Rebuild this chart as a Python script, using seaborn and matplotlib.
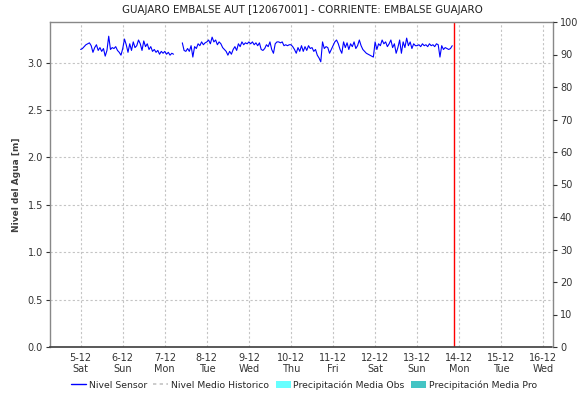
import numpy as np
import pandas as pd
import matplotlib
matplotlib.use("Agg")
import matplotlib.pyplot as plt
import matplotlib.dates as mdates
from matplotlib.lines import Line2D
from matplotlib.patches import Patch
import seaborn as sns

# Nivel horario del sensor [m], un bloque por día (desde las 00:00)
nivel_dia_05 = [3.14, 3.15, 3.17, 3.19, 3.20, 3.21, 3.18, 3.11, 3.16, 3.19, 3.13, 3.16,
                3.12, 3.15, 3.07, 3.13, 3.28, 3.14, 3.16, 3.15, 3.17, 3.13, 3.11, 3.08]
nivel_dia_06 = [3.15, 3.25, 3.19, 3.11, 3.20, 3.13, 3.22, 3.16, 3.18, 3.24, 3.20, 3.13,
                3.23, 3.17, 3.20, 3.14, 3.17, 3.12, 3.14, 3.11, 3.13, 3.09, 3.12, 3.10]
nivel_dia_07 = [3.12, 3.09, 3.11, 3.08, 3.10, 3.09, np.nan, np.nan, np.nan, np.nan, 3.21, 3.13,
                3.12, 3.15, 3.12, 3.18, 3.06, 3.17, 3.15, 3.20, 3.18, 3.22, 3.19, 3.21]
nivel_dia_08 = [3.22, 3.24, 3.20, 3.27, 3.22, 3.24, 3.19, 3.22, 3.20, 3.16, 3.14, 3.12,
                3.08, 3.12, 3.09, 3.14, 3.17, 3.13, 3.20, 3.17, 3.22, 3.19, 3.21, 3.20]
nivel_dia_09 = [3.22, 3.20, 3.22, 3.19, 3.21, 3.18, 3.21, 3.14, 3.13, 3.15, 3.19, 3.17,
                3.22, 3.14, 3.10, 3.20, 3.22, 3.22, 3.21, 3.22, 3.18, 3.19, 3.18, 3.19]
nivel_dia_10 = [3.19, 3.17, 3.14, 3.10, 3.16, 3.12, 3.18, 3.12, 3.17, 3.13, 3.18, 3.15,
                3.16, 3.12, 3.14, 3.08, 3.05, 3.01, 3.22, 3.15, 3.17, 3.16, 3.10, 3.14]
nivel_dia_11 = [3.18, 3.22, 3.24, 3.20, 3.14, 3.10, 3.22, 3.16, 3.21, 3.14, 3.20, 3.17,
                3.22, 3.15, 3.18, 3.24, 3.18, 3.14, 3.12, 3.10, 3.09, 3.08, 3.07, 3.06]
nivel_dia_12 = [3.22, 3.14, 3.20, 3.18, 3.24, 3.20, 3.22, 3.17, 3.20, 3.24, 3.16, 3.20,
                3.10, 3.16, 3.24, 3.10, 3.22, 3.16, 3.26, 3.18, 3.22, 3.15, 3.20, 3.18]
nivel_dia_13 = [3.18, 3.19, 3.17, 3.20, 3.18, 3.19, 3.17, 3.20, 3.18, 3.19, 3.17, 3.20,
                3.19, 3.06, 3.18, 3.14, 3.16, 3.15, 3.14, 3.15, 3.18]

inicio_serie = "2020-12-05 00:00"
hora_actual = "2020-12-13 21:00"
eje_x_desde = "2020-12-04 06:30"
eje_x_hasta = "2020-12-16 05:30"

titulo = "GUAJARO EMBALSE AUT [12067001] - CORRIENTE: EMBALSE GUAJARO"
etiqueta_y = "Nivel del Agua [m]"
nombres_leyenda = ["Nivel Sensor", "Nivel Medio Historico",
                   "Precipitación Media Obs", "Precipitación Media Pro"]

nivel = (nivel_dia_05 + nivel_dia_06 + nivel_dia_07 + nivel_dia_08 + nivel_dia_09 +
         nivel_dia_10 + nivel_dia_11 + nivel_dia_12 + nivel_dia_13)
df = pd.DataFrame({"fecha": pd.date_range(inicio_serie, periods=len(nivel), freq="h"),
                   "nivel": nivel})
# cada hueco de datos abre un tramo nuevo para no unir la línea a través de él
df["tramo"] = df["nivel"].isna().cumsum()
df = df.dropna()

sns.set_theme(style="white")
plt.rcParams["font.family"] = ["DejaVu Sans"]

fig = plt.figure(figsize=(5.8, 4.04), dpi=100)
ax = fig.add_axes([50 / 580, 1 - 347 / 404, (553 - 50) / 580, (347 - 22) / 404])

sns.lineplot(data=df, x="fecha", y="nivel", units="tramo", estimator=None,
             color="#0000ff", linewidth=0.8, ax=ax, legend=False)
ax.axvline(pd.Timestamp(hora_actual), color="#ff0000", linewidth=1)

ax.set_xlim(pd.Timestamp(eje_x_desde), pd.Timestamp(eje_x_hasta))
ax.set_ylim(0, 3.43)
ax.set_yticks(np.arange(0, 3.01, 0.5))
ax.yaxis.set_major_formatter(matplotlib.ticker.FormatStrFormatter("%.1f"))
ax.xaxis.set_major_locator(mdates.DayLocator())
ax.xaxis.set_major_formatter(matplotlib.ticker.FuncFormatter(
    lambda v, _: (lambda d: f"{d.day}-{d.month}\n{d.strftime('%a')}")(mdates.num2date(v))))

ax.grid(True, linestyle=(0, (2, 2)), color="#c4c4c4", linewidth=0.8)
ax.set_xlabel("")
ax.set_ylabel(etiqueta_y, fontsize=6.5, fontweight="bold", color="#404040", labelpad=5)
ax.tick_params(axis="x", labelsize=7, length=0, pad=4, colors="#333333")
ax.tick_params(axis="y", labelsize=7, length=3, width=0.8, colors="#333333", left=True, pad=2)
for s in ("left", "top", "right"):
    ax.spines[s].set_color("#888888")
    ax.spines[s].set_linewidth(1)
ax.spines["bottom"].set_color("#444444")
ax.spines["bottom"].set_linestyle((0, (1, 1)))

ax2 = ax.twinx()
ax2.set_ylim(0, 100)
ax2.set_yticks(range(0, 101, 10))
ax2.grid(False)
ax2.tick_params(axis="y", labelsize=7, length=3, width=0.8, colors="#333333", right=True, pad=2)
for s in ax2.spines.values():
    s.set_visible(False)

fig.text(302 / 580, 1 - 10 / 404, titulo, ha="center", va="center", fontsize=7.4, color="#222222")

handles = [Line2D([], [], color="#0000ff", linewidth=1),
           Line2D([], [], color="#c4c4c4", linewidth=1.2, linestyle=(0, (2, 2))),
           Patch(facecolor="#66ffff", edgecolor="none"),
           Patch(facecolor="#44c4c4", edgecolor="none")]
fig.legend(handles, nombres_leyenda, loc="center", bbox_to_anchor=(304 / 580, 1 - 385 / 404),
           ncol=4, frameon=False, fontsize=6.7, handlelength=1.6, handleheight=0.9,
           handletextpad=0.3, columnspacing=0.7)

fig.savefig("out.png", dpi=100)
